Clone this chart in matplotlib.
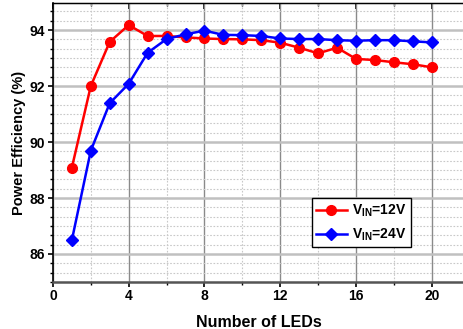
import matplotlib
matplotlib.use("Agg")
import matplotlib.pyplot as plt
from matplotlib.ticker import MultipleLocator

plt.rcParams["font.family"] = ["Liberation Sans", "DejaVu Sans"]
plt.rcParams["font.weight"] = "bold"
plt.rcParams["mathtext.fontset"] = "custom"
plt.rcParams["mathtext.rm"] = "Liberation Sans:bold"
plt.rcParams["mathtext.bf"] = "Liberation Sans:bold"

leds = list(range(1, 21))
eff_12v = [89.08, 92.0, 93.58, 94.18, 93.79, 93.79, 93.74, 93.70, 93.68, 93.67,
           93.64, 93.55, 93.37, 93.17, 93.37, 92.97, 92.93, 92.85, 92.78, 92.67]
eff_24v = [86.49, 89.69, 91.39, 92.08, 93.19, 93.68, 93.85, 93.98, 93.83, 93.82,
           93.79, 93.70, 93.68, 93.68, 93.64, 93.62, 93.64, 93.64, 93.60, 93.56]
labels = [r"V$_{\mathrm{IN}}$=12V", r"V$_{\mathrm{IN}}$=24V"]

fig = plt.figure(figsize=(4.64, 3.29), dpi=100)
ax = fig.add_axes([0.114, 0.143, 0.886, 0.848])

ax.plot(leds, eff_12v, "-o", color="#ff0000", lw=1.8, ms=7, label=labels[0], zorder=3)
ax.plot(leds, eff_24v, "-D", color="#0000ff", lw=1.8, ms=6.5, label=labels[1], zorder=3)

ax.set_xlim(0, 21.7)
ax.set_ylim(85, 94.97)
ax.xaxis.set_major_locator(MultipleLocator(4))
ax.xaxis.set_minor_locator(MultipleLocator(2))
ax.yaxis.set_major_locator(MultipleLocator(2))
ax.yaxis.set_minor_locator(MultipleLocator(2 / 6))

ax.grid(True, which="minor", linestyle=(0, (1.5, 1.5)), color="#c8c8c8", lw=0.8)
ax.grid(True, which="major", axis="x", color="#8a8a8a", lw=1.0)
ax.grid(True, which="major", axis="y", color="#c0c0c0", lw=1.8)
ax.set_axisbelow(True)

ax.spines["right"].set_visible(False)
ax.spines["bottom"].set_color("#555555")
ax.spines["bottom"].set_linewidth(1.8)
ax.spines["left"].set_linewidth(1.2)
ax.spines["top"].set_linewidth(1.0)

ax.tick_params(axis="both", which="major", direction="out", length=3.5, width=1.2,
               labelsize=10, pad=2)
ax.tick_params(axis="both", which="minor", direction="out", length=2.5, width=1.0)
ax.tick_params(axis="x", which="major", pad=1.5)

top = ax.secondary_xaxis("top")
top.xaxis.set_major_locator(MultipleLocator(4))
top.xaxis.set_minor_locator(MultipleLocator(2))
top.tick_params(which="major", direction="in", length=4, width=1.2, labeltop=False)
top.tick_params(which="minor", direction="in", length=2.5, width=1.0)

ax.set_xlabel("Number of LEDs", fontsize=11.5, fontweight="bold", labelpad=9)
ax.set_ylabel("Power Efficiency (%)", fontsize=10.5, fontweight="bold", labelpad=3)

leg = ax.legend(loc="lower left", bbox_to_anchor=(0.63, 0.125), borderaxespad=0,
                fancybox=False, edgecolor="black", framealpha=1, fontsize=10,
                handlelength=2.2, handletextpad=0.4, borderpad=0.3,
                labelspacing=0.55)
leg.get_frame().set_linewidth(1.0)

fig.savefig("out.png", dpi=100)
